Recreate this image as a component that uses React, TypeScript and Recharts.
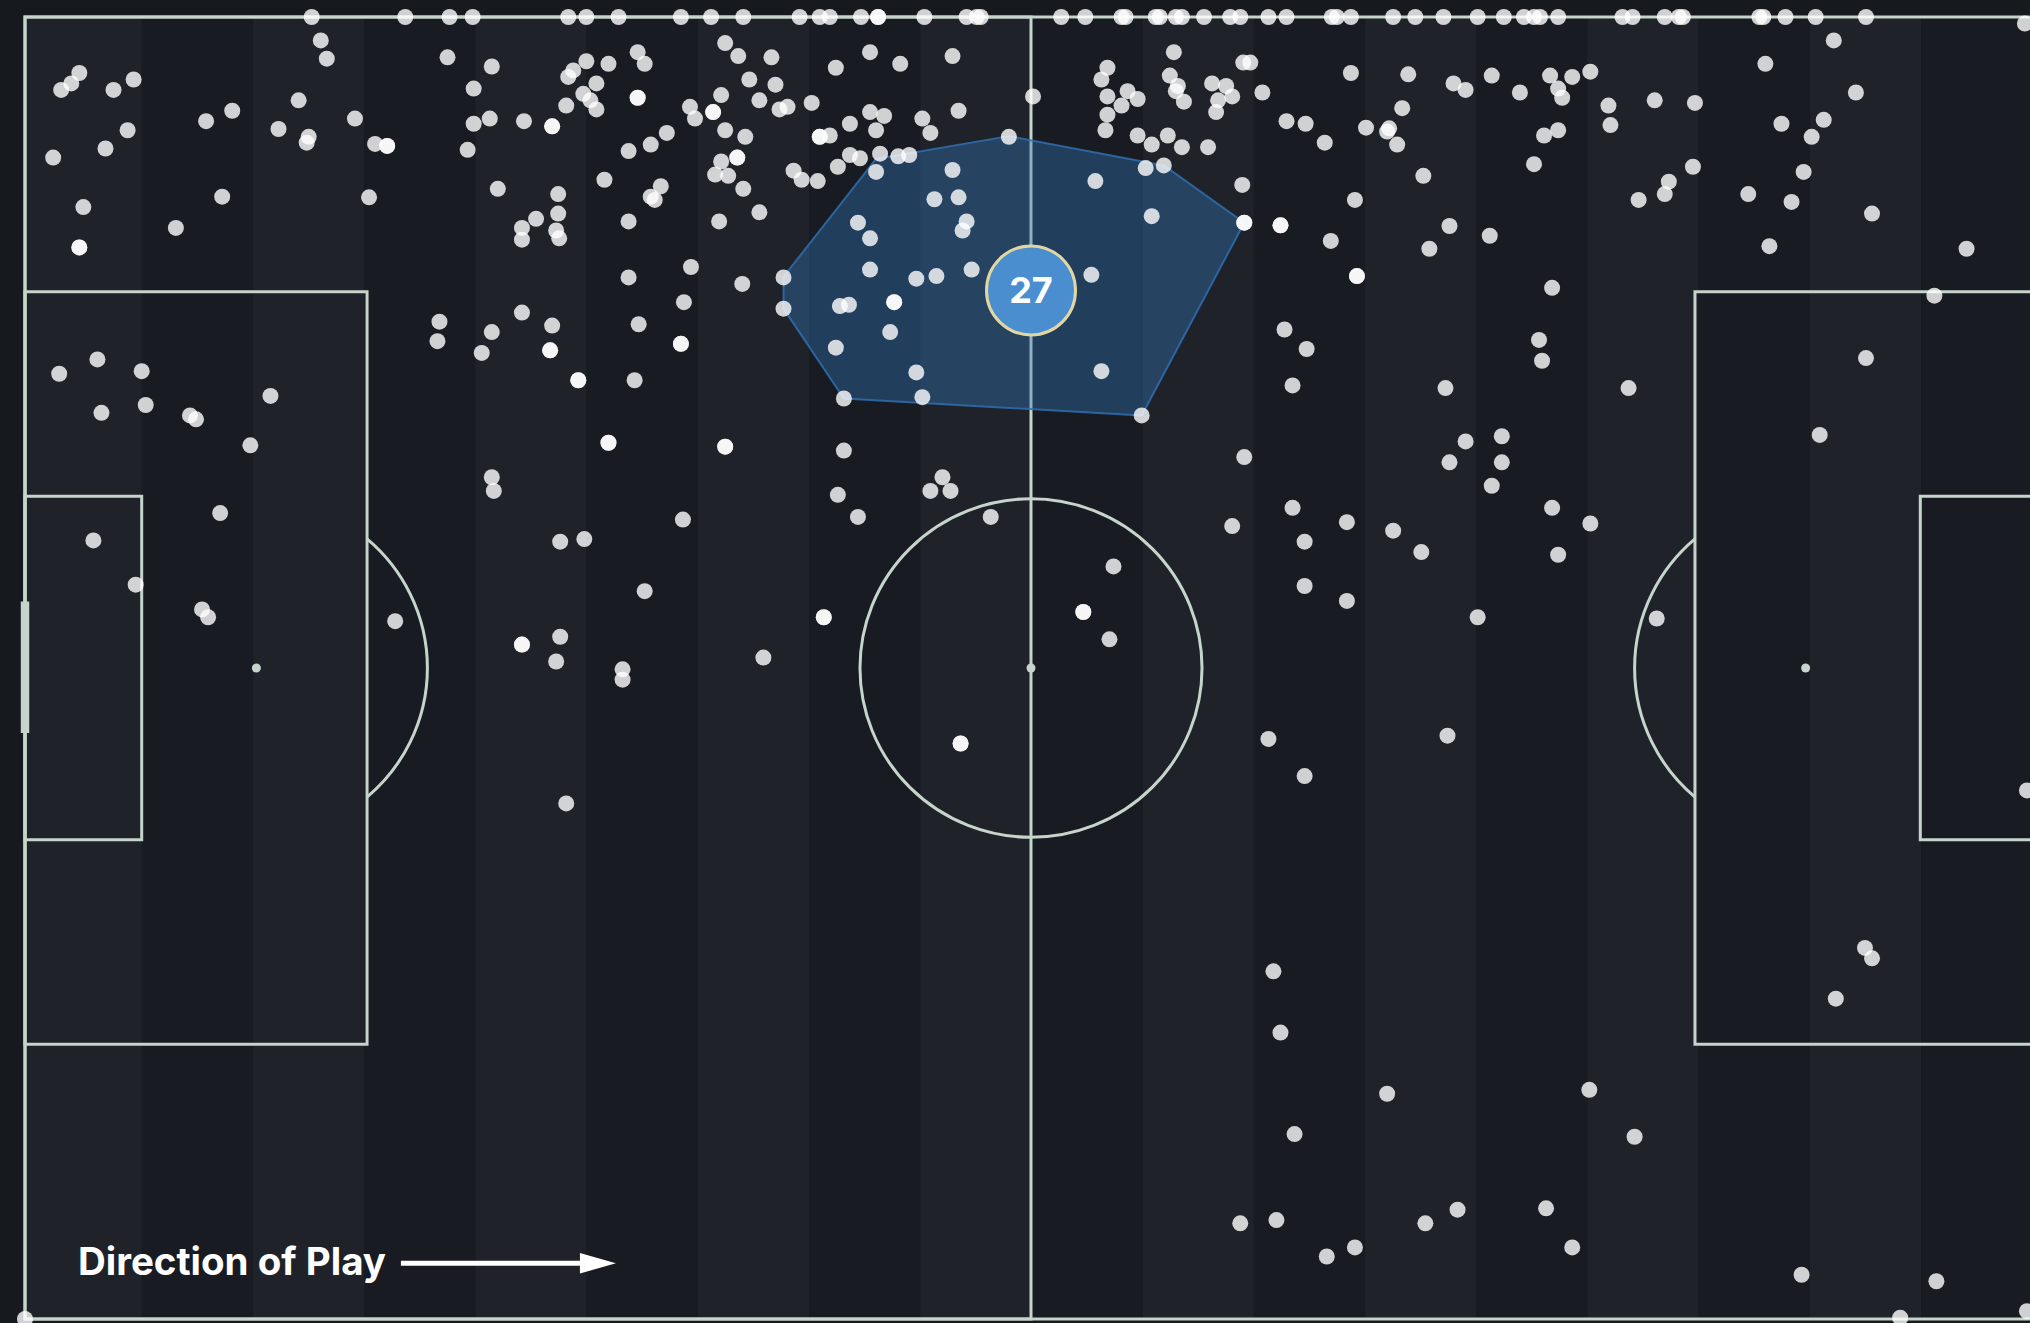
import React from 'react';
import { ScatterChart, Scatter, XAxis, YAxis, ReferenceArea, ReferenceDot } from 'recharts';

// ---------------- DATA (pitch units 0–100: x = own goal → opponent goal, y = top touchline → bottom touchline)
const touchlineX: number[] = [
  14.25, 18.9, 21.1, 22.25, 27.0, 27.9, 29.5, 32.6, 34.1, 35.7, 38.5, 39.5, 40.0, 41.55, 42.4, 42.4,
  44.7, 46.8, 47.3, 47.5, 51.5, 52.7, 54.5, 54.7, 56.2, 56.4, 57.2, 57.5, 58.6, 59.9, 60.4, 61.8,
  62.7, 64.95, 65.2, 65.9, 68.0, 69.1, 70.5, 72.2, 73.5, 74.5, 75.0, 75.3, 76.2, 79.4, 79.9, 81.5,
  82.2, 82.4, 86.2, 86.4, 87.5, 89.0, 91.5,
];

const defensiveThird: [number, number][] = [
  [14.7, 1.8], [15.0, 3.2], [2.7, 4.3], [2.3, 5.1], [1.8, 5.6], [4.4, 5.6], [5.4, 4.8], [10.3, 7.2],
  [9.0, 8.0], [13.6, 6.4], [12.6, 8.6], [14.1, 9.2], [14.0, 9.65], [5.1, 8.7], [4.0, 10.1], [1.4, 10.8],
  [2.9, 14.6], [2.7, 17.7], [2.7, 17.7], [9.8, 13.8], [7.5, 16.2], [1.7, 27.4], [3.6, 26.3], [5.8, 27.2],
  [3.8, 30.4], [6.0, 29.8], [8.2, 30.6], [8.5, 30.9], [12.2, 29.1], [11.2, 32.9],
  [21.0, 3.1], [23.2, 3.8], [22.3, 5.5], [16.4, 7.8], [17.4, 9.75], [18.0, 9.9], [18.0, 9.9], [17.1, 13.85],
  [22.3, 8.2], [23.1, 7.8], [22.0, 10.2], [24.8, 8.0], [26.2, 8.4], [26.2, 8.4], [26.9, 6.8], [27.0, 4.6],
  [27.25, 4.1], [27.9, 3.4], [29.0, 3.6], [27.75, 5.9], [28.4, 5.1], [28.1, 6.4], [28.4, 7.1], [30.45, 2.7],
  [30.8, 3.6], [30.45, 6.2], [30.45, 6.2], [31.9, 8.9], [31.1, 9.8], [30.0, 10.3], [23.5, 13.2], [26.5, 13.6],
  [25.4, 15.5], [24.7, 16.2], [24.7, 17.1], [26.5, 15.1], [26.4, 16.4], [26.55, 17.0], [28.8, 12.5], [31.6, 13.0],
  [31.1, 13.8], [31.3, 14.05], [30.0, 15.7], [30.0, 20.0], [20.6, 23.4], [20.5, 24.9], [23.2, 24.2], [22.7, 25.8],
  [24.7, 22.7], [26.2, 23.7], [26.1, 25.6], [26.1, 25.6], [27.5, 27.9], [27.5, 27.9], [30.3, 27.9], [30.5, 23.6],
  [29.0, 32.7], [29.0, 32.7], [33.05, 6.9], [33.3, 7.8], [33.1, 19.2], [32.75, 21.9], [32.6, 25.1], [32.6, 25.1],
  [9.7, 38.1], [3.4, 40.2], [5.5, 43.6], [8.8, 45.5], [9.1, 46.1], [18.4, 46.4], [23.2, 35.35], [23.3, 36.4],
  [26.6, 40.3], [27.8, 40.1], [30.8, 44.1], [24.7, 48.2], [24.7, 48.2], [26.6, 47.6], [26.4, 49.5], [29.7, 50.1],
  [29.7, 50.9], [26.9, 60.4], [32.7, 38.6], [0, 100],
];

const middleThird: [number, number][] = [
  [34.8, 2.0], [35.45, 3.0], [37.1, 3.1], [40.3, 3.9], [42.0, 2.7], [43.5, 3.6], [46.1, 3.0], [36.0, 4.8],
  [37.3, 5.2], [34.6, 6.0], [36.5, 6.4], [34.2, 7.3], [34.2, 7.3], [37.5, 7.1], [37.9, 6.9], [39.1, 6.6],
  [42.0, 7.3], [42.7, 7.6], [44.6, 7.8], [46.4, 7.2], [34.8, 8.7], [35.8, 9.2], [39.5, 9.2], [39.5, 9.2],
  [40.0, 9.1], [41.0, 8.2], [42.3, 8.7], [45.0, 8.9], [48.9, 9.2], [34.6, 11.1], [35.4, 10.8], [35.4, 10.8],
  [34.3, 12.1], [34.95, 12.2], [35.7, 13.2], [36.5, 15.0], [34.5, 15.7], [38.2, 11.8], [38.6, 12.5], [39.4, 12.6],
  [40.4, 11.5], [41.0, 10.6], [41.5, 10.85], [42.5, 10.5], [43.4, 10.7], [43.95, 10.6], [42.3, 11.9], [46.1, 11.75],
  [45.2, 14.0], [46.4, 13.85], [41.4, 15.8], [42.0, 17.0], [46.8, 15.7], [46.6, 16.4], [35.65, 20.5], [37.7, 20.0],
  [42.0, 19.4], [44.3, 20.1], [45.3, 19.9], [47.05, 19.4], [37.7, 22.4], [40.5, 22.2], [40.95, 22.1], [43.2, 21.9],
  [43.2, 21.9], [43.0, 24.2], [40.3, 25.4], [44.3, 27.3], [40.7, 29.3], [44.6, 29.2], [34.8, 33.0], [34.8, 33.0],
  [40.7, 33.3],
  [50.1, 6.1], [57.1, 2.7], [53.8, 3.9], [53.5, 4.8], [53.8, 6.1], [54.5, 6.8], [54.8, 5.7], [55.3, 6.3],
  [53.8, 7.5], [53.7, 8.7], [56.9, 4.5], [57.3, 5.3], [57.2, 5.7], [57.6, 6.5], [59.0, 5.1], [59.7, 5.3],
  [60.0, 6.1], [59.3, 6.4], [59.2, 7.3], [60.55, 3.5], [60.9, 3.5], [61.5, 5.8], [55.3, 9.1], [56.0, 9.8],
  [56.8, 9.1], [57.5, 10.0], [58.8, 10.0], [55.7, 11.6], [56.6, 11.4], [53.2, 12.6], [56.0, 15.3], [60.5, 12.9],
  [60.6, 15.8], [60.6, 15.8], [62.4, 16.0], [62.4, 16.0], [62.7, 8.0], [63.65, 8.2], [64.6, 9.65], [65.9, 4.3],
  [66.1, 14.05], [64.9, 17.2], [66.2, 19.9], [66.2, 19.9], [53.0, 19.8], [53.5, 27.2], [55.5, 30.6], [62.6, 24.0],
  [63.7, 25.5], [63.0, 28.3], [60.6, 33.8],
  [40.4, 36.7], [41.4, 38.4], [45.6, 35.35], [45.0, 36.4], [46.0, 36.4], [48.0, 38.4], [39.7, 46.1], [39.7, 46.1],
  [36.7, 49.2], [54.1, 42.2], [52.6, 45.7], [52.6, 45.7], [53.9, 47.8], [46.5, 55.8], [46.5, 55.8], [60.0, 39.1],
  [63.0, 37.7], [63.6, 40.3], [63.6, 43.7], [65.7, 38.8], [65.7, 44.85], [61.8, 55.45], [63.6, 58.3],
  [62.05, 73.3], [62.4, 78.0], [63.1, 85.8], [60.4, 92.65], [62.2, 92.4], [64.7, 95.2], [66.1, 94.5],
];

const finalThird: [number, number][] = [
  [68.75, 4.4], [71.0, 5.1], [71.6, 5.6], [72.9, 4.5], [74.3, 5.8], [75.8, 4.5], [76.2, 5.5], [76.4, 6.2],
  [76.9, 4.6], [77.8, 4.2], [68.45, 7.0], [66.65, 8.5], [67.8, 8.55], [67.7, 8.8], [68.2, 9.8], [78.7, 6.8],
  [78.8, 8.3], [81.0, 6.4], [83.0, 6.6], [75.5, 9.1], [76.2, 8.7], [75.0, 11.3], [69.5, 12.2], [82.9, 11.5],
  [81.7, 12.65], [81.5, 13.6], [80.2, 14.05], [70.8, 16.05], [69.8, 17.8], [72.8, 16.8], [75.9, 20.8], [75.25, 24.8],
  [75.4, 26.4], [70.6, 28.5], [79.7, 28.5], [71.6, 32.6], [73.4, 32.2],
  [89.9, 1.8], [86.5, 3.6], [91.0, 5.8], [87.3, 8.2], [89.4, 7.9], [88.8, 9.2], [88.4, 11.9], [85.65, 13.6],
  [87.8, 14.2], [91.8, 15.1], [86.7, 17.6], [96.5, 17.8], [94.9, 21.4], [91.5, 26.2], [89.2, 32.1], [99.4, 0.5],
  [70.8, 34.2], [73.4, 34.2], [72.9, 36.0], [75.9, 37.7], [77.8, 38.9], [68.0, 39.45], [69.4, 41.1], [76.2, 41.3],
  [72.2, 46.1], [81.1, 46.2], [70.7, 55.2], [99.5, 59.4],
  [67.7, 82.7], [77.75, 82.4], [80.0, 86.0], [69.6, 92.65], [71.2, 91.6], [75.6, 91.5], [76.9, 94.5], [91.45, 71.5],
  [91.8, 72.3], [90.0, 75.4], [88.3, 96.6], [95.0, 97.1], [93.2, 99.9], [99.5, 99.4],
];

const hullVertices: [number, number][] = [
  [37.7, 19.95], [42.3, 10.9], [48.9, 9.15], [56.6, 11.4], [60.6, 15.8], [55.5, 30.6], [40.7, 29.3], [37.7, 22.4],
];

const averagePosition = [{ x: 50.0, y: 21.0, label: '27' }];
const directionText = 'Direction of Play';

// ---------------- PITCH GEOMETRY (pitch units) & STYLE
const PEN_DEPTH = 17;
const PEN_TOP = 21.1;
const PEN_BOTTOM = 78.9;
const SIX_DEPTH = 5.8;
const SIX_TOP = 36.8;
const SIX_BOTTOM = 63.2;
const SPOT = 11.5;
const CIRCLE_RX = 8.5;
const CIRCLE_RY = 13.0;
const GOAL_TOP = 44.9;
const GOAL_BOTTOM = 55.0;

const W = 2045;
const H = 1323;
const MARGIN = { top: 17, right: 8, bottom: 4, left: 25 };
const LINE = '#c6d4cb';
const LW = 3;
const BG = '#161a1f';
const STRIPE_LIGHT = '#1f2329';
const STRIPE_DARK = '#181b21';
const STRIPES = 18;
const STRIPE_W = 5.527;
const STRIPE_OFFSET = 0.28;
const FONT = "Inter, 'Open Sans', 'DejaVu Sans', sans-serif";

const stripeEdges = Array.from({ length: STRIPES + 1 }, (_, k) =>
  k === 0 ? 0 : k === STRIPES ? 100 : STRIPE_OFFSET + STRIPE_W * k
);

const ActionDot = (p: any) => <circle cx={p.cx} cy={p.cy} r={8} fill="#ffffff" fillOpacity={0.8} />;

const AverageMarker = (p: any) => (
  <g>
    <circle cx={p.cx} cy={p.cy} r={44.5} fill="#4a8ecf" stroke="#e2d7a3" strokeWidth={3} />
    <text
      x={p.cx}
      y={p.cy + 13}
      textAnchor="middle"
      fill="#ffffff"
      fontSize={36}
      fontWeight={700}
      fontFamily={FONT}
    >
      {p.payload.label}
    </text>
  </g>
);

const ellipseShape = (r: any) => (
  <ellipse
    cx={r.x + r.width / 2}
    cy={r.y + r.height / 2}
    rx={r.width / 2}
    ry={r.height / 2}
    fill="none"
    stroke={LINE}
    strokeWidth={LW}
  />
);

const arcShape = (side: 1 | -1) => (r: any) => {
  const cx = r.x + r.width / 2;
  const cy = r.y + r.height / 2;
  const rx = r.width / 2;
  const ry = r.height / 2;
  const t = (PEN_DEPTH - SPOT) / CIRCLE_RX;
  const dx = side * t * rx;
  const dy = ry * Math.sqrt(1 - t * t);
  return (
    <path
      d={`M ${cx + dx} ${cy - dy} A ${rx} ${ry} 0 0 ${side === 1 ? 1 : 0} ${cx + dx} ${cy + dy}`}
      fill="none"
      stroke={LINE}
      strokeWidth={LW}
    />
  );
};

const hxs = hullVertices.map((v) => v[0]);
const hys = hullVertices.map((v) => v[1]);
const HX0 = Math.min(...hxs);
const HX1 = Math.max(...hxs);
const HY0 = Math.min(...hys);
const HY1 = Math.max(...hys);

const hullShape = (r: any) => {
  const pts = hullVertices
    .map(([vx, vy]) => {
      const px = r.x + ((vx - HX0) / (HX1 - HX0)) * r.width;
      const py = r.y + ((vy - HY0) / (HY1 - HY0)) * r.height;
      return `${px},${py}`;
    })
    .join(' ');
  return (
    <polygon
      points={pts}
      fill="#3579c0"
      fillOpacity={0.38}
      stroke="#2f6fb0"
      strokeOpacity={0.85}
      strokeWidth={2}
      strokeLinejoin="round"
    />
  );
};

const directionShape = (p: any) => (
  <g>
    <text x={p.cx} y={p.cy + 13} fill="#ffffff" fontSize={38.5} fontWeight={700} fontFamily={FONT}>
      {directionText}
    </text>
    <line x1={p.cx + 323} y1={p.cy + 1.6} x2={p.cx + 505} y2={p.cy + 1.6} stroke="#ffffff" strokeWidth={5} />
    <polygon
      points={`${p.cx + 502},${p.cy - 8.6} ${p.cx + 538},${p.cy + 1.6} ${p.cx + 502},${p.cy + 11.8}`}
      fill="#ffffff"
    />
  </g>
);

const toPoints = (arr: [number, number][]) => arr.map(([x, y]) => ({ x, y }));

export default function App() {
  const touchPoints = touchlineX.map((x) => ({ x, y: 0 }));
  return (
    <div
      style={{
        position: 'absolute',
        left: 0,
        top: 0,
        width: 2030,
        height: 1323,
        overflow: 'hidden',
        background: BG,
      }}
    >
      <ScatterChart width={W} height={H} margin={MARGIN}>
        <XAxis type="number" dataKey="x" domain={[0, 100]} hide />
        <YAxis type="number" dataKey="y" domain={[0, 100]} reversed hide />

        {stripeEdges.slice(0, -1).map((x0, k) => (
          <ReferenceArea
            key={`stripe-${k}`}
            x1={x0}
            x2={stripeEdges[k + 1]}
            y1={0}
            y2={100}
            fill={k % 2 === 0 ? STRIPE_LIGHT : STRIPE_DARK}
            fillOpacity={1}
            stroke="none"
            ifOverflow="visible"
          />
        ))}

        {/* pitch markings */}
        <ReferenceArea x1={0} x2={100} y1={0} y2={100} fill="none" stroke={LINE} strokeWidth={LW} ifOverflow="visible" />
        <ReferenceArea x1={0} x2={50} y1={0} y2={100} fill="none" stroke={LINE} strokeWidth={LW} ifOverflow="visible" />
        <ReferenceArea x1={0} x2={PEN_DEPTH} y1={PEN_TOP} y2={PEN_BOTTOM} fill="none" stroke={LINE} strokeWidth={LW} ifOverflow="visible" />
        <ReferenceArea x1={100 - PEN_DEPTH} x2={100} y1={PEN_TOP} y2={PEN_BOTTOM} fill="none" stroke={LINE} strokeWidth={LW} ifOverflow="visible" />
        <ReferenceArea x1={0} x2={SIX_DEPTH} y1={SIX_TOP} y2={SIX_BOTTOM} fill="none" stroke={LINE} strokeWidth={LW} ifOverflow="visible" />
        <ReferenceArea x1={100 - SIX_DEPTH} x2={100} y1={SIX_TOP} y2={SIX_BOTTOM} fill="none" stroke={LINE} strokeWidth={LW} ifOverflow="visible" />
        <ReferenceArea
          x1={50 - CIRCLE_RX}
          x2={50 + CIRCLE_RX}
          y1={50 - CIRCLE_RY}
          y2={50 + CIRCLE_RY}
          ifOverflow="visible"
          shape={ellipseShape}
        />
        <ReferenceArea
          x1={SPOT - CIRCLE_RX}
          x2={SPOT + CIRCLE_RX}
          y1={50 - CIRCLE_RY}
          y2={50 + CIRCLE_RY}
          ifOverflow="visible"
          shape={arcShape(1)}
        />
        <ReferenceArea
          x1={100 - SPOT - CIRCLE_RX}
          x2={100 - SPOT + CIRCLE_RX}
          y1={50 - CIRCLE_RY}
          y2={50 + CIRCLE_RY}
          ifOverflow="visible"
          shape={arcShape(-1)}
        />
        <ReferenceArea x1={-0.21} x2={0.21} y1={GOAL_TOP} y2={GOAL_BOTTOM} fill={LINE} fillOpacity={1} stroke="none" ifOverflow="visible" />
        <ReferenceDot x={SPOT} y={50} r={4.5} fill={LINE} stroke="none" ifOverflow="visible" />
        <ReferenceDot x={50} y={50} r={4.5} fill={LINE} stroke="none" ifOverflow="visible" />
        <ReferenceDot x={100 - SPOT} y={50} r={4.5} fill={LINE} stroke="none" ifOverflow="visible" />

        {/* convex hull of the player's actions */}
        <ReferenceArea x1={HX0} x2={HX1} y1={HY0} y2={HY1} ifOverflow="visible" shape={hullShape} />

        <Scatter name="touchline" data={touchPoints} shape={ActionDot} isAnimationActive={false} />
        <Scatter name="defensive" data={toPoints(defensiveThird)} shape={ActionDot} isAnimationActive={false} />
        <Scatter name="middle" data={toPoints(middleThird)} shape={ActionDot} isAnimationActive={false} />
        <Scatter name="final" data={toPoints(finalThird)} shape={ActionDot} isAnimationActive={false} />
        <Scatter name="average" data={averagePosition} shape={AverageMarker} isAnimationActive={false} />

        <ReferenceDot x={2.63} y={95.6} r={0} ifOverflow="visible" shape={directionShape} />
      </ScatterChart>
    </div>
  );
}
